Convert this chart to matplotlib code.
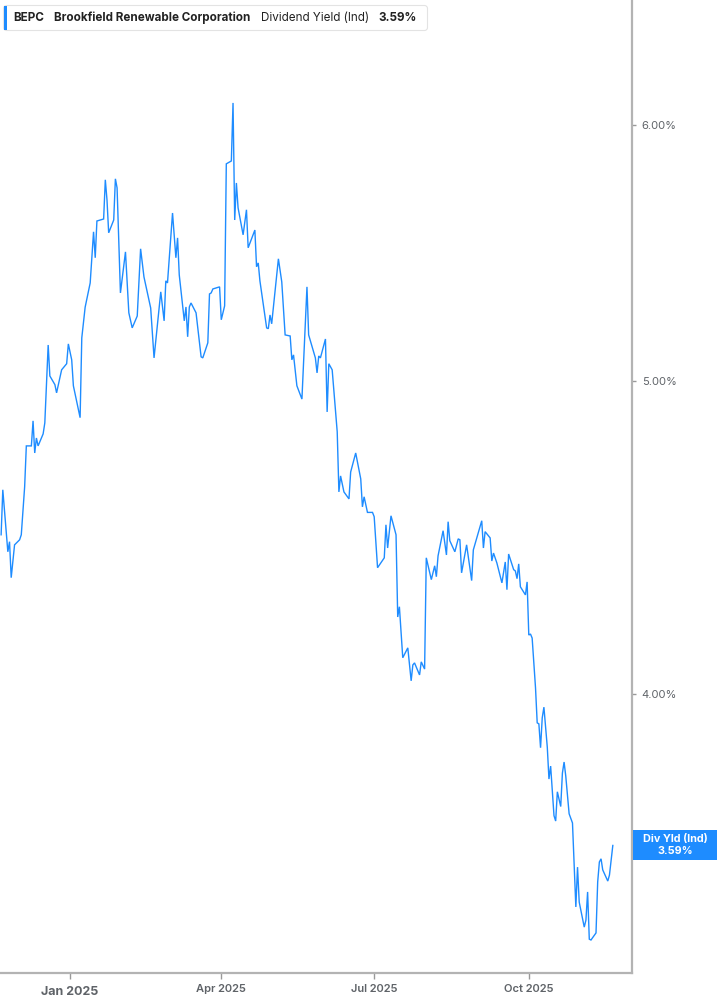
import matplotlib
matplotlib.use("Agg")
import matplotlib.pyplot as plt
from matplotlib.patches import FancyBboxPatch, Rectangle
from matplotlib.ticker import FixedLocator, NullLocator, FixedFormatter
from matplotlib.transforms import blended_transform_factory
import pandas as pd

# ---------------- data ----------------
dates = [
    "2024-11-21", "2024-11-22", "2024-11-25", "2024-11-26", "2024-11-27", "2024-11-29",
    "2024-12-02", "2024-12-03", "2024-12-05", "2024-12-06", "2024-12-09", "2024-12-10",
    "2024-12-11", "2024-12-12", "2024-12-13", "2024-12-16", "2024-12-17", "2024-12-19",
    "2024-12-20", "2024-12-23", "2024-12-24", "2024-12-27", "2024-12-30", "2024-12-31",
    "2025-01-02", "2025-01-03", "2025-01-07", "2025-01-08", "2025-01-10", "2025-01-13",
    "2025-01-15", "2025-01-16", "2025-01-17", "2025-01-21", "2025-01-22", "2025-01-23",
    "2025-01-24", "2025-01-27", "2025-01-28", "2025-01-29", "2025-01-31", "2025-02-03",
    "2025-02-05", "2025-02-07", "2025-02-10", "2025-02-12", "2025-02-14", "2025-02-18",
    "2025-02-20", "2025-02-24", "2025-02-26", "2025-02-27", "2025-02-28", "2025-03-03",
    "2025-03-05", "2025-03-06", "2025-03-07", "2025-03-10", "2025-03-11", "2025-03-12",
    "2025-03-13", "2025-03-14", "2025-03-17", "2025-03-20", "2025-03-21", "2025-03-24",
    "2025-03-25", "2025-03-26", "2025-03-27", "2025-03-31", "2025-04-01", "2025-04-03",
    "2025-04-04", "2025-04-07", "2025-04-08", "2025-04-09", "2025-04-10", "2025-04-11",
    "2025-04-14", "2025-04-16", "2025-04-17", "2025-04-21", "2025-04-22", "2025-04-23",
    "2025-04-24", "2025-04-28", "2025-04-29", "2025-04-30", "2025-05-01", "2025-05-05",
    "2025-05-07", "2025-05-09", "2025-05-12", "2025-05-13", "2025-05-14", "2025-05-16",
    "2025-05-19", "2025-05-22", "2025-05-23", "2025-05-27", "2025-05-28", "2025-05-29",
    "2025-05-30", "2025-06-02", "2025-06-03", "2025-06-04", "2025-06-06", "2025-06-09",
    "2025-06-10", "2025-06-11", "2025-06-13", "2025-06-16", "2025-06-17", "2025-06-20",
    "2025-06-23", "2025-06-24", "2025-06-25", "2025-06-27", "2025-06-30", "2025-07-01",
    "2025-07-03", "2025-07-07", "2025-07-08", "2025-07-09", "2025-07-11", "2025-07-14",
    "2025-07-15", "2025-07-16", "2025-07-18", "2025-07-21", "2025-07-23", "2025-07-24",
    "2025-07-25", "2025-07-28", "2025-07-29", "2025-07-31", "2025-08-01", "2025-08-04",
    "2025-08-06", "2025-08-07", "2025-08-08", "2025-08-11", "2025-08-13", "2025-08-14",
    "2025-08-15", "2025-08-18", "2025-08-20", "2025-08-21", "2025-08-22", "2025-08-25",
    "2025-08-28", "2025-08-29", "2025-09-03", "2025-09-04", "2025-09-05", "2025-09-08",
    "2025-09-09", "2025-09-10", "2025-09-12", "2025-09-15", "2025-09-17", "2025-09-18",
    "2025-09-19", "2025-09-22", "2025-09-23", "2025-09-24", "2025-09-25", "2025-09-26",
    "2025-09-29", "2025-09-30", "2025-10-01", "2025-10-02", "2025-10-03", "2025-10-05",
    "2025-10-06", "2025-10-07", "2025-10-08", "2025-10-09", "2025-10-10", "2025-10-12",
    "2025-10-13", "2025-10-14", "2025-10-16", "2025-10-17", "2025-10-18", "2025-10-20",
    "2025-10-21", "2025-10-22", "2025-10-23", "2025-10-25", "2025-10-27", "2025-10-29",
    "2025-10-30", "2025-10-31", "2025-11-03", "2025-11-04", "2025-11-05", "2025-11-06",
    "2025-11-07", "2025-11-10", "2025-11-11", "2025-11-12", "2025-11-13", "2025-11-14",
    "2025-11-17", "2025-11-18", "2025-11-20",
]
yield_pct = [
    4.480, 4.626, 4.426, 4.458, 4.345, 4.448,
    4.464, 4.480, 4.636, 4.773, 4.773, 4.859,
    4.749, 4.800, 4.773, 4.814, 4.852, 5.129,
    5.017, 4.986, 4.957, 5.039, 5.061, 5.133,
    5.075, 4.982, 4.870, 5.155, 5.269, 5.361,
    5.560, 5.458, 5.603, 5.611, 5.770, 5.688,
    5.556, 5.607, 5.774, 5.737, 5.323, 5.481,
    5.248, 5.192, 5.236, 5.493, 5.384, 5.266,
    5.082, 5.327, 5.218, 5.369, 5.361, 5.635,
    5.458, 5.536, 5.392, 5.218, 5.270, 5.159,
    5.270, 5.285, 5.248, 5.086, 5.082, 5.137,
    5.319, 5.323, 5.338, 5.346, 5.222, 5.274,
    5.836, 5.848, 6.095, 5.607, 5.757, 5.656,
    5.548, 5.648, 5.497, 5.567, 5.423, 5.438,
    5.369, 5.192, 5.189, 5.240, 5.207, 5.454,
    5.365, 5.166, 5.162, 5.075, 5.093, 4.982,
    4.935, 5.346, 5.166, 5.082, 5.028, 5.089,
    5.082, 5.151, 4.890, 5.061, 5.039, 4.821,
    4.619, 4.672, 4.619, 4.596, 4.685, 4.749,
    4.662, 4.570, 4.603, 4.552, 4.552, 4.538,
    4.376, 4.407, 4.512, 4.438, 4.541, 4.480,
    4.225, 4.256, 4.104, 4.133, 4.037, 4.083,
    4.089, 4.054, 4.092, 4.071, 4.407, 4.339,
    4.382, 4.348, 4.413, 4.493, 4.416, 4.522,
    4.461, 4.426, 4.467, 4.464, 4.360, 4.448,
    4.336, 4.432, 4.525, 4.438, 4.490, 4.470,
    4.397, 4.422, 4.391, 4.329, 4.394, 4.308,
    4.419, 4.370, 4.366, 4.342, 4.388, 4.317,
    4.292, 4.332, 4.171, 4.174, 4.162, 4.017,
    3.918, 3.915, 3.849, 3.932, 3.962, 3.851,
    3.764, 3.799, 3.667, 3.653, 3.730, 3.691,
    3.780, 3.810, 3.772, 3.672, 3.648, 3.436,
    3.535, 3.448, 3.387, 3.404, 3.473, 3.358,
    3.356, 3.373, 3.498, 3.548, 3.556, 3.528,
    3.500, 3.515, 3.590,
]

ticker = "BEPC"
company = "Brookfield Renewable Corporation"
metric = "Dividend Yield (Ind)"
last_value_label = "3.59%"
badge_title = "Div Yld (Ind)"
last_value = 3.59

y_ticks = [4.0, 5.0, 6.0]
y_tick_labels = ["4.00%", "5.00%", "6.00%"]
x_ticks = ["2025-01-01", "2025-04-01", "2025-07-01", "2025-10-01"]
x_tick_labels = ["Jan 2025", "Apr 2025", "Jul 2025", "Oct 2025"]
x_start = "2024-11-20 08:00"
x_end = "2025-12-01 10:00"
y_range = (3.278, 6.559)

# ---------------- style ----------------
BLUE = "#1e8cff"
GREY_TXT = "#5f6368"
SPINE = "#b3b3b3"
FONT = ["Inter", "DejaVu Sans"]
plt.rcParams["font.family"] = FONT

W, H = 717, 1005
fig = plt.figure(figsize=(W / 100, H / 100), dpi=100)
fig.patch.set_facecolor("white")
ax = fig.add_axes([0, 32 / H, 632 / W, 973 / H])

x = pd.to_datetime(dates)
ax.plot(x, yield_pct, color=BLUE, lw=1.0, solid_joinstyle="miter")

ax.set_yscale("log")
ax.set_ylim(*y_range)
ax.set_xlim(pd.Timestamp(x_start), pd.Timestamp(x_end))

for s in ("left", "top"):
    ax.spines[s].set_visible(False)
for s in ("right", "bottom"):
    ax.spines[s].set_color(SPINE)
    ax.spines[s].set_linewidth(1.6)

ax.yaxis.tick_right()
ax.yaxis.set_major_locator(FixedLocator(y_ticks))
ax.yaxis.set_minor_locator(NullLocator())
ax.yaxis.set_major_formatter(FixedFormatter(y_tick_labels))
ax.tick_params(axis="y", which="major", direction="out", length=3, width=1,
               color="#999999", labelsize=8, labelcolor=GREY_TXT, pad=4)

xt = pd.to_datetime(x_ticks)
ax.set_xticks(xt)
ax.set_xticklabels([])
ax.tick_params(axis="x", direction="out", length=4, width=1, color="#999999")

trans = blended_transform_factory(ax.transData, ax.transAxes)
for i, (d, lab) in enumerate(zip(xt, x_tick_labels)):
    if i == 0:
        ax.text(d, -19 / 973, lab, transform=trans, ha="center", va="center",
                fontsize=9, fontweight="bold", color=GREY_TXT)
    else:
        ax.text(d, -15.5 / 973, lab, transform=trans, ha="center", va="center",
                fontsize=8, fontweight="semibold", color=GREY_TXT)

# ---------------- overlay (pixel coords) ----------------
ov = fig.add_axes([0, 0, 1, 1], zorder=10)
ov.set_xlim(0, W)
ov.set_ylim(H, 0)
ov.axis("off")
ov.patch.set_alpha(0)

hdr = FancyBboxPatch((3.5, 5.5), 424, 25, boxstyle="round,pad=0,rounding_size=3",
                     facecolor="white", edgecolor="#e3e3e3", lw=0.8)
ov.add_patch(hdr)
ov.add_patch(Rectangle((3.5, 6), 3, 24, facecolor=BLUE, edgecolor="none"))
ty = 17.5
ov.text(13, ty, ticker, ha="left", va="center", fontsize=8.4, fontweight="bold", color="#222222")
ov.text(54, ty, company, ha="left", va="center", fontsize=8.4, fontweight="bold", color="#222222")
ov.text(261, ty, metric, ha="left", va="center", fontsize=8.4, color="#222222")
ov.text(378, ty, last_value_label, ha="left", va="center", fontsize=8.4, fontweight="bold", color="#222222")

# badge at last value
ydisp = ax.transData.transform((ax.get_xlim()[0], last_value))[1]
ypix = H - ydisp
ov.add_patch(Rectangle((632.5, ypix - 15), 84.5, 30, facecolor=BLUE, edgecolor="none"))
ov.text(675, ypix - 6, badge_title, ha="center", va="center", fontsize=7.8,
        fontweight="bold", color="white")
ov.text(675, ypix + 5.5, last_value_label, ha="center", va="center", fontsize=7.8,
        fontweight="bold", color="white")

fig.savefig("out.png", dpi=100, facecolor="white")
